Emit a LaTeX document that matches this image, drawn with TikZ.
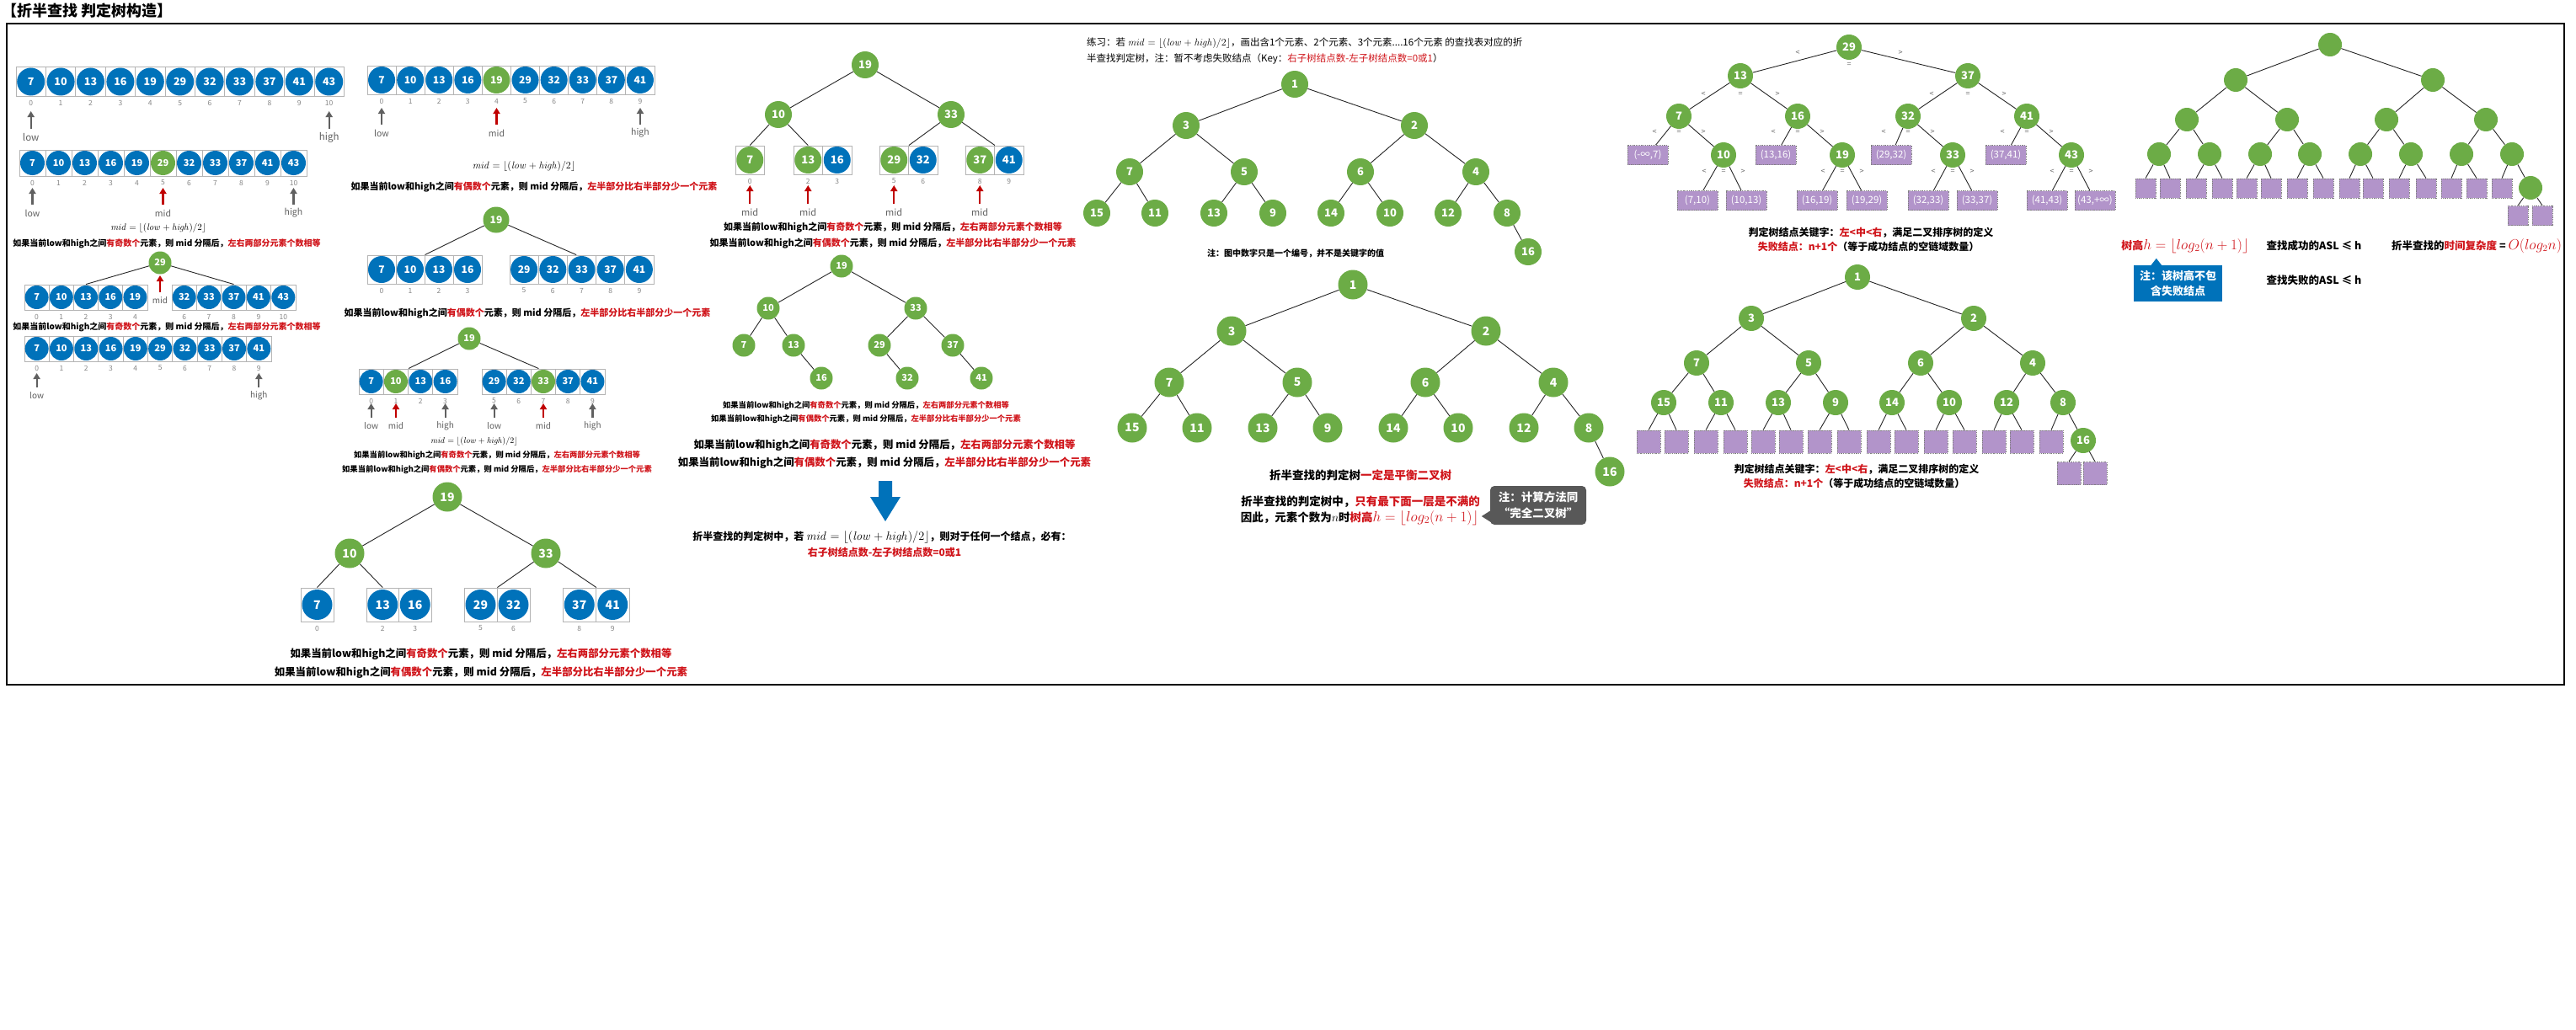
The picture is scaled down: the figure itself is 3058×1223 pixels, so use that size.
\documentclass[tikz,border=0pt]{standalone}
\usepackage[no-math]{fontspec}
\setmainfont{Noto Sans CJK SC}
\usetikzlibrary{arrows.meta}
\definecolor{nblue}{RGB}{0,114,186}
\definecolor{ngreen}{RGB}{108,172,70}
\definecolor{tred}{RGB}{208,20,26}
\definecolor{ared}{RGB}{192,0,0}
\definecolor{agray}{RGB}{96,96,96}
\definecolor{cellgray}{RGB}{180,180,180}
\definecolor{idxgray}{RGB}{135,135,135}
\definecolor{fpurple}{RGB}{178,148,202}
\definecolor{callgray}{RGB}{88,88,88}
\newcommand{\myfs}[1]{\fontsize{#1}{#1}\selectfont}
\newcommand{\rd}[1]{\textcolor{tred}{#1}}
\newcommand{\midf}{$\mathit{mid}=\lfloor(\mathit{low}+\mathit{high})/2\rfloor$}
\newcommand{\oddtxt}{如果当前low和high之间\rd{有奇数个}元素，则 mid 分隔后，\rd{左右两部分元素个数相等}}
\newcommand{\eventxt}{如果当前low和high之间\rd{有偶数个}元素，则 mid 分隔后，\rd{左半部分比右半部分少一个元素}}
\tikzset{
  cellbox/.style={draw=cellgray, line width=0.9pt, inner sep=0pt},
  num/.style={circle, inner sep=0pt, text=white, font=\bfseries},
  gn/.style={num, fill=ngreen},
  idx/.style={text=idxgray, inner sep=0pt, font=\myfs{8.5}},
  lbl/.style={text=agray, inner sep=0pt},
  edge/.style={draw=black!85, line width=0.9pt},
  txt/.style={inner sep=0pt},
  fail/.style={fill=fpurple, draw=black!50, densely dotted, line width=0.8pt, inner sep=0pt, text=white},
  elab/.style={text=black!60, inner sep=0pt, font=\myfs{9}},
  tA/.style={gn, minimum size=35, font=\bfseries\myfs{14}},
  tC/.style={gn, minimum size=32, font=\bfseries\myfs{13}},
  tS/.style={gn, minimum size=27, font=\bfseries\myfs{11}},
  tE/.style={gn, minimum size=30, font=\bfseries\myfs{13}},
  tF/.style={circle, fill=ngreen, minimum size=28, inner sep=0pt},
}
% #1 name, #2 x-left, #3 y, #4 cell w, #5 cell h, #6 circle d, #7 font, #8 list
\newcommand{\cellrow}[8]{%
  \foreach \vv/\cc/\kk [count=\i from 0] in {#8}{%
    \node[cellbox, minimum width=#4, minimum height=#5] (#1c\i) at ({#2+#4*\i+#4/2},#3) {};
    \node[num, fill=\cc, minimum size=#6, font=\bfseries\myfs{#7}] (#1n\i) at (#1c\i) {\vv};
    \node[idx] (#1i\i) at ({#2+#4*\i+#4/2},{#3+#5/2+8}) {\kk};
  }%
}
% #1 name #2 x #3 tip y #4 base y #5 colour #6 label #7 font size
\newcommand{\ptr}[7]{%
  \coordinate (#1b) at (#2,#4);
  \coordinate (#1t) at (#2,#3);
  \draw[#5, line width=2.2pt, -{Triangle[length=7pt,width=8pt]}] (#1b) -- (#1t);
  \node[lbl, font=\myfs{#7}] (#1l) at (#2,{#4+10}) {#6};
}
\newcommand{\ltri}[4]{%
  \path (#1) ++(-#2,#3) node[elab] (#1lt) {<};
  \path (#1) ++(0,#4) node[elab] (#1eq) {=};
  \path (#1) ++(#2,#3) node[elab] (#1gt) {>};
}
\begin{document}
\begin{tikzpicture}[x=1pt,y=-1pt]
\useasboundingbox (0,0) rectangle (3058,1223);
\fill[white] (0,0) rectangle (3058,1223);
\node[anchor=west, inner sep=0pt, font=\bfseries\myfs{18}] (title) at (2,13) {【折半查找 判定树构造】};
\draw[line width=1.2pt] (8,28) rectangle (3044,813);

% ===== Panel A =====
\cellrow{aa}{19}{97}{35.4}{35}{33}{12.5}{7/nblue/0,10/nblue/1,13/nblue/2,16/nblue/3,19/nblue/4,29/nblue/5,32/nblue/6,33/nblue/7,37/nblue/8,41/nblue/9,43/nblue/10}
\ptr{pa1}{36.7}{132}{153}{agray}{low}{11.5}
\ptr{pa2}{390.7}{132}{153}{agray}{high}{11.5}

\cellrow{ab}{23}{193.5}{31}{31}{29}{11}{7/nblue/0,10/nblue/1,13/nblue/2,16/nblue/3,19/nblue/4,29/ngreen/5,32/nblue/6,33/nblue/7,37/nblue/8,41/nblue/9,43/nblue/10}
\ptr{pb1}{38.5}{223}{243}{agray}{low}{10.5}
\ptr{pb2}{193.5}{223}{243}{ared}{mid}{10.5}
\ptr{pb3}{348.5}{223}{243}{agray}{high}{10.5}

\node[txt, font=\myfs{10.5}] (fa) at (188,271) {\midf};
\node[txt, font=\bfseries\myfs{10}] (ta1) at (198,289) {\oddtxt};
\node[tS] (ar) at (190,312) {29};
\ptr{pc}{190}{327}{347}{ared}{mid}{10}
\cellrow{acl}{29}{353}{29.2}{30}{28}{11}{7/nblue/0,10/nblue/1,13/nblue/2,16/nblue/3,19/nblue/4}
\cellrow{acr}{204}{353}{29.4}{30}{28}{11}{32/nblue/6,33/nblue/7,37/nblue/8,41/nblue/9,43/nblue/10}
\draw[edge] (ar) -- (aclc2.north);
\draw[edge] (ar) -- (acrc2.north);
\node[txt, font=\bfseries\myfs{10}] (ta2) at (198,388) {\oddtxt};
\cellrow{ad}{29}{414}{29.3}{30}{28}{11}{7/nblue/0,10/nblue/1,13/nblue/2,16/nblue/3,19/nblue/4,29/nblue/5,32/nblue/6,33/nblue/7,37/nblue/8,41/nblue/9}
\ptr{pd1}{43.6}{443}{460}{agray}{low}{10}
\ptr{pd2}{307.3}{443}{460}{agray}{high}{10}

% bottom tree
\node[tA] (q19) at (531,590) {19};
\node[tA] (q10) at (415,657) {10};
\node[tA] (q33) at (648,657) {33};
\cellrow{qga}{357}{718}{39}{40}{36}{14}{7/nblue/0}
\cellrow{qgb}{435}{718}{38.5}{40}{36}{14}{13/nblue/2,16/nblue/3}
\cellrow{qgc}{551}{718}{39}{40}{36}{14}{29/nblue/5,32/nblue/6}
\cellrow{qgd}{668}{718}{39.5}{40}{36}{14}{37/nblue/8,41/nblue/9}
\draw[edge] (q19) -- (q10);
\draw[edge] (q19) -- (q33);
\draw[edge] (q10) -- (qgac0.north);
\draw[edge] (q10) -- (qgbc0.north);
\draw[edge] (q33) -- (qgcc0.north east);
\draw[edge] (q33) -- (qgdc0.north east);
\node[txt, font=\bfseries\myfs{12.4}] (tq1) at (571,777) {\oddtxt};
\node[txt, font=\bfseries\myfs{12.4}] (tq2) at (571,799) {\eventxt};

% ===== Panel B =====
\cellrow{ba}{436}{95}{34.1}{34}{32}{12}{7/nblue/0,10/nblue/1,13/nblue/2,16/nblue/3,19/ngreen/4,29/nblue/5,32/nblue/6,33/nblue/7,37/nblue/8,41/nblue/9}
\ptr{pe1}{453}{128}{148}{agray}{low}{10.5}
\ptr{pe2}{589.5}{128}{148}{ared}{mid}{10.5}
\ptr{pe3}{760}{128}{148}{agray}{high}{10.5}
\node[txt, font=\myfs{11.5}] (fb) at (622,197) {\midf};
\node[txt, font=\bfseries\myfs{11}] (tb1) at (634,222) {\eventxt};
\node[gn, minimum size=31, font=\bfseries\myfs{12}] (br) at (589,261) {19};
\cellrow{bbl}{436}{320}{34}{34}{32}{12}{7/nblue/0,10/nblue/1,13/nblue/2,16/nblue/3}
\cellrow{bbr}{605}{320}{34.2}{34}{32}{12}{29/nblue/5,32/nblue/6,33/nblue/7,37/nblue/8,41/nblue/9}
\draw[edge] (br) -- (bblc1.north east);
\draw[edge] (br) -- (bbrc2.110);
\node[txt, font=\bfseries\myfs{11}] (tb2) at (626,372) {\eventxt};
\node[tS] (bc) at (557,402) {19};
\cellrow{bcl}{426}{453}{29.3}{30}{28}{11}{7/nblue/0,10/ngreen/1,13/nblue/2,16/nblue/3}
\cellrow{bcr}{572}{453}{29.2}{30}{28}{11}{29/nblue/5,32/nblue/6,33/ngreen/7,37/nblue/8,41/nblue/9}
\draw[edge] (bc) -- (bclc1.north east);
\draw[edge] (bc) -- (bcrc2.110);
\ptr{pf1}{440.6}{479}{496}{agray}{low}{10}
\ptr{pf2}{470}{479}{496}{ared}{mid}{10}
\ptr{pf3}{528.6}{479}{496}{agray}{high}{10}
\ptr{pf4}{586.6}{479}{496}{agray}{low}{10}
\ptr{pf5}{645}{479}{496}{ared}{mid}{10}
\ptr{pf6}{703.4}{479}{496}{agray}{high}{10}
\node[txt, font=\myfs{10}] (fc) at (563,524) {\midf};
\node[txt, font=\bfseries\myfs{9.3}] (tc1) at (590,541) {\oddtxt};
\node[txt, font=\bfseries\myfs{9.3}] (tc2) at (590,558) {\eventxt};

% ===== Panel C =====
\node[tC] (c19) at (1027,77) {19};
\node[tC] (c10) at (924,136) {10};
\node[tC] (c33) at (1129,136) {33};
\cellrow{cga}{873}{190}{34.5}{34}{32}{13}{7/ngreen/0}
\cellrow{cgb}{942}{190}{34.5}{34}{32}{13}{13/ngreen/2,16/nblue/3}
\cellrow{cgc}{1044}{190}{34.5}{34}{32}{13}{29/ngreen/5,32/nblue/6}
\cellrow{cgd}{1146}{190}{34.5}{34}{32}{13}{37/ngreen/8,41/nblue/9}
\draw[edge] (c19) -- (c10);
\draw[edge] (c19) -- (c33);
\draw[edge] (c10) -- (cgac0.north);
\draw[edge] (c10) -- (cgbc0.north);
\draw[edge] (c33) -- (cgcc0.north east);
\draw[edge] (c33) -- (cgdc0.north east);
\ptr{pg1}{890.25}{220}{242}{ared}{mid}{11}
\ptr{pg2}{959.25}{220}{242}{ared}{mid}{11}
\ptr{pg3}{1061.25}{220}{242}{ared}{mid}{11}
\ptr{pg4}{1163.25}{220}{242}{ared}{mid}{11}
\node[txt, font=\bfseries\myfs{11}] (tk1) at (1060,270) {\oddtxt};
\node[txt, font=\bfseries\myfs{11}] (tk2) at (1060,289) {\eventxt};

\node[tS] (k19) at (999,316) {19};
\node[tS] (k10) at (912,366) {10};
\node[tS] (k33) at (1087,366) {33};
\node[tS] (k7) at (883,410) {7};
\node[tS] (k13) at (942,410) {13};
\node[tS] (k29) at (1044,410) {29};
\node[tS] (k37) at (1131,410) {37};
\node[tS] (k16) at (975,449) {16};
\node[tS] (k32) at (1077,449) {32};
\node[tS] (k41) at (1165,449) {41};
\draw[edge] (k19) -- (k10);
\draw[edge] (k19) -- (k33);
\draw[edge] (k10) -- (k7);
\draw[edge] (k10) -- (k13);
\draw[edge] (k13) -- (k16);
\draw[edge] (k33) -- (k29);
\draw[edge] (k33) -- (k37);
\draw[edge] (k29) -- (k32);
\draw[edge] (k37) -- (k41);
\node[txt, font=\bfseries\myfs{9.3}] (tk3) at (1028,482) {\oddtxt};
\node[txt, font=\bfseries\myfs{9.3}] (tk4) at (1028,498) {\eventxt};
\node[txt, font=\bfseries\myfs{12.4}] (tk5) at (1050,529) {\oddtxt};
\node[txt, font=\bfseries\myfs{12.4}] (tk6) at (1050,550) {\eventxt};
\fill[nblue] (1043,571) -- (1059,571) -- (1059,590) -- (1069,590) -- (1051,619) -- (1033,590) -- (1043,590) -- cycle;
\node[txt, font=\bfseries\myfs{12}] (tk7) at (1047,638) {折半查找的判定树中，若 {\myfs{14.5}\midf}，则对于任何一个结点，必有：};
\node[txt, font=\bfseries\myfs{12}, text=tred] (tk8) at (1050,656) {右子树结点数-左子树结点数=0或1};

% ===== Panel D =====
\node[anchor=west, inner sep=0pt, font=\myfs{11.5}] (pr1) at (1290,51) {练习：若 {\myfs{12.5}\midf}，画出含1个元素、2个元素、3个元素....16个元素 的查找表对应的折};
\node[anchor=west, inner sep=0pt, font=\myfs{11.5}] (pr2) at (1290,70) {半查找判定树，注：暂不考虑失败结点（Key：\rd{右子树结点数-左子树结点数=0或1}）};
\node[tC] (d1) at (1537,100) {1};
\node[tC] (d3) at (1408,149) {3};
\node[tC] (d2) at (1679,149) {2};
\node[tC] (d7) at (1341,204) {7};
\node[tC] (d5) at (1477,204) {5};
\node[tC] (d6) at (1615,204) {6};
\node[tC] (d4) at (1752,204) {4};
\node[tC] (d15) at (1302,253) {15};
\node[tC] (d11) at (1371,253) {11};
\node[tC] (d13) at (1441,253) {13};
\node[tC] (d9) at (1511,253) {9};
\node[tC] (d14) at (1580,253) {14};
\node[tC] (d10) at (1650,253) {10};
\node[tC] (d12) at (1719,253) {12};
\node[tC] (d8) at (1789,253) {8};
\node[tC] (d16) at (1814,299) {16};
\foreach \a/\b in {d1/d3,d1/d2,d3/d7,d3/d5,d2/d6,d2/d4,d7/d15,d7/d11,d5/d13,d5/d9,d6/d14,d6/d10,d4/d12,d4/d8,d8/d16}
  \draw[edge] (\a) -- (\b);
\node[txt, font=\bfseries\myfs{10}] (dn) at (1538,301) {注：图中数字只是一个编号，并不是关键字的值};

\node[tA] (m1) at (1606,338) {1};
\node[tA] (m3) at (1462,393) {3};
\node[tA] (m2) at (1764,393) {2};
\node[tA] (m7) at (1388,454) {7};
\node[tA] (m5) at (1540,454) {5};
\node[tA] (m6) at (1692,454) {6};
\node[tA] (m4) at (1844,454) {4};
\node[tA] (m15) at (1344,508) {15};
\node[tA] (m11) at (1421,508) {11};
\node[tA] (m13) at (1499,508) {13};
\node[tA] (m9) at (1576,508) {9};
\node[tA] (m14) at (1654,508) {14};
\node[tA] (m10) at (1731,508) {10};
\node[tA] (m12) at (1809,508) {12};
\node[tA] (m8) at (1886,508) {8};
\node[tA] (m16) at (1911,560) {16};
\foreach \a/\b in {m1/m3,m1/m2,m3/m7,m3/m5,m2/m6,m2/m4,m7/m15,m7/m11,m5/m13,m5/m9,m6/m14,m6/m10,m4/m12,m4/m8,m8/m16}
  \draw[edge] (\a) -- (\b);
\node[txt, font=\bfseries\myfs{13.5}] (mt1) at (1615,564) {折半查找的判定树\rd{一定是平衡二叉树}};
\node[txt, font=\bfseries\myfs{13.5}] (mt2) at (1615,596) {折半查找的判定树中，\rd{只有最下面一层是不满的}};
\node[txt, font=\bfseries\myfs{13.5}] (mt3) at (1614,615) {因此，元素个数为$n$时\rd{树高{\myfs{17}$h=\lfloor log_2(n+1)\rfloor$}}};
\node[fill=callgray, rounded corners=5pt, minimum width=114, minimum height=46, inner sep=0pt, text=white, align=center, font=\bfseries\fontsize{13.5}{19}\selectfont] (call1) at (1826,600) {注：计算方法同\\“完全二叉树”};
\fill[callgray] (call1.west) ++(1,6) -- ++(-11,7) -- ++(11,7) -- cycle;

% ===== Panel E =====
\node[tE] (e29) at (2195,56) {29};
\node[tE] (e13) at (2066,90) {13};
\node[tE] (e37) at (2336,90) {37};
\node[tE] (e7) at (1993,138) {7};
\node[tE] (e16) at (2134,138) {16};
\node[tE] (e32) at (2265,138) {32};
\node[tE] (e41) at (2406,138) {41};
\node[tE] (e10) at (2046,184) {10};
\node[tE] (e19) at (2187,184) {19};
\node[tE] (e33) at (2318,184) {33};
\node[tE] (e43) at (2459,184) {43};
\tikzset{fb/.style={fail, minimum width=48, minimum height=23, font=\myfs{11.5}}}
\node[fb] (f1) at (1956,184) {(-∞,7)};
\node[fb] (f2) at (2108,184) {(13,16)};
\node[fb] (f3) at (2245,184) {(29,32)};
\node[fb] (f4) at (2381,184) {(37,41)};
\node[fb] (f5) at (2015,238) {(7,10)};
\node[fb] (f6) at (2073,238) {(10,13)};
\node[fb] (f7) at (2157,238) {(16,19)};
\node[fb] (f8) at (2216,238) {(19,29)};
\node[fb] (f9) at (2289,238) {(32,33)};
\node[fb] (f10) at (2347,238) {(33,37)};
\node[fb] (f11) at (2430,238) {(41,43)};
\node[fb] (f12) at (2487,238) {(43,+∞)};
\foreach \a/\b in {e29/e13,e29/e37,e13/e7,e13/e16,e37/e32,e37/e41,e7/f1,e7/e10,e10/f5,e10/f6,e16/f2,e16/e19,e19/f7,e19/f8,e32/f3,e32/e33,e33/f9,e33/f10,e41/f4,e41/e43,e43/f11,e43/f12}
  \draw[edge] (\a) -- (\b);
\ltri{e29}{61}{7}{21}
\ltri{e13}{44}{22}{22}
\ltri{e37}{43}{22}{22}
\ltri{e7}{29}{19}{19}
\ltri{e16}{29}{19}{19}
\ltri{e32}{29}{19}{19}
\ltri{e41}{29}{19}{19}
\ltri{e10}{23}{20}{20}
\ltri{e19}{23}{20}{20}
\ltri{e33}{23}{20}{20}
\ltri{e43}{23}{20}{20}
\node[txt, font=\bfseries\myfs{12}] (et1) at (2221,276) {判定树结点关键字：\rd{左<中<右}，满足二叉排序树的定义};
\node[txt, font=\bfseries\myfs{12}] (et2) at (2218,293) {\rd{失败结点：n+1个}（等于成功结点的空链域数量）};

\node[tE] (g1) at (2205,329) {1};
\node[tE] (g3) at (2079,378) {3};
\node[tE] (g2) at (2343,378) {2};
\node[tE] (g7) at (2014,431) {7};
\node[tE] (g5) at (2147,431) {5};
\node[tE] (g6) at (2280,431) {6};
\node[tE] (g4) at (2413,431) {4};
\node[tE] (g15) at (1975,478) {15};
\node[tE] (g11) at (2043,478) {11};
\node[tE] (g13) at (2111,478) {13};
\node[tE] (g9) at (2179,478) {9};
\node[tE] (g14) at (2246,478) {14};
\node[tE] (g10) at (2314,478) {10};
\node[tE] (g12) at (2382,478) {12};
\node[tE] (g8) at (2449,478) {8};
\node[tE] (g16) at (2473,523) {16};
\foreach \n/\x in {1/1957,2/1990,3/2025,4/2060,5/2093,6/2126,7/2160,8/2195,9/2230,10/2263,11/2298,12/2332,13/2367,14/2400,15/2435}
  \node[fail, minimum width=28, minimum height=27] (gs\n) at (\x,524.5) {};
\node[fail, minimum width=28, minimum height=27] (gs16) at (2456,562) {};
\node[fail, minimum width=28, minimum height=27] (gs17) at (2487,562) {};
\foreach \a/\b in {g1/g3,g1/g2,g3/g7,g3/g5,g2/g6,g2/g4,g7/g15,g7/g11,g5/g13,g5/g9,g6/g14,g6/g10,g4/g12,g4/g8,g8/g16}
  \draw[edge] (\a) -- (\b);
\foreach \a/\b in {g15/gs1,g15/gs2,g11/gs3,g11/gs4,g13/gs5,g13/gs6,g9/gs7,g9/gs8,g14/gs9,g14/gs10,g10/gs11,g10/gs12,g12/gs13,g12/gs14,g8/gs15,g16/gs16,g16/gs17}
  \draw[edge] (\a) -- (\b.north);
\node[txt, font=\bfseries\myfs{12}] (gt1) at (2204,557) {判定树结点关键字：\rd{左<中<右}，满足二叉排序树的定义};
\node[txt, font=\bfseries\myfs{12}] (gt2) at (2201,574) {\rd{失败结点：n+1个}（等于成功结点的空链域数量）};

% ===== Panel F =====
\node[tF] (h1) at (2766,53) {};
\node[tF] (h2a) at (2654,95) {};
\node[tF] (h2b) at (2888,95) {};
\foreach \n/\x in {a/2596,b/2715,c/2833,d/2951}
  \node[tF] (h3\n) at (\x,142) {};
\foreach \n/\x in {a/2563,b/2623,c/2683,d/2742,e/2802,f/2862,g/2922,h/2982}
  \node[tF] (h4\n) at (\x,183) {};
\node[tF] (h5) at (3004,223) {};
\foreach \n/\x in {1/2547,2/2576,3/2607,4/2638,5/2667,6/2696,7/2727,8/2758,9/2789,10/2817,11/2848,12/2880,13/2910,14/2940,15/2970}
  \node[fail, minimum width=24, minimum height=23] (hs\n) at (\x,223.5) {};
\node[fail, minimum width=24, minimum height=23] (hs16) at (2989,256) {};
\node[fail, minimum width=24, minimum height=23] (hs17) at (3018,256) {};
\foreach \a/\b in {h1/h2a,h1/h2b,h2a/h3a,h2a/h3b,h2b/h3c,h2b/h3d,h3a/h4a,h3a/h4b,h3b/h4c,h3b/h4d,h3c/h4e,h3c/h4f,h3d/h4g,h3d/h4h,h4h/h5}
  \draw[edge] (\a) -- (\b);
\foreach \a/\b in {h4a/hs1,h4a/hs2,h4b/hs3,h4b/hs4,h4c/hs5,h4c/hs6,h4d/hs7,h4d/hs8,h4e/hs9,h4e/hs10,h4f/hs11,h4f/hs12,h4g/hs13,h4g/hs14,h4h/hs15,h5/hs16,h5/hs17}
  \draw[edge] (\a) -- (\b.north);
\node[txt, font=\bfseries\myfs{13}, text=tred] (ft1) at (2594,292) {树高{\myfs{17}$h=\lfloor log_2(n+1)\rfloor$}};
\node[txt, font=\bfseries\myfs{12.5}] (ft2) at (2747,292) {查找成功的ASL ≤ h};
\node[txt, font=\bfseries\myfs{12.5}] (ft3) at (2940,292) {折半查找的\rd{时间复杂度} = \rd{{\myfs{16}$O(log_2n)$}}};
\node[fill=nblue, minimum width=105, minimum height=43, inner sep=0pt, text=white, align=center, font=\bfseries\fontsize{13}{18}\selectfont] (fbox) at (2585.5,336.5) {注：该树高不包\\含失败结点};
\fill[nblue] (fbox.north west) ++(20,1) -- ++(7,-9) -- ++(7,9) -- cycle;
\node[txt, font=\bfseries\myfs{12.5}] (ft4) at (2747,333) {查找失败的ASL ≤ h};
\end{tikzpicture}
\end{document}
